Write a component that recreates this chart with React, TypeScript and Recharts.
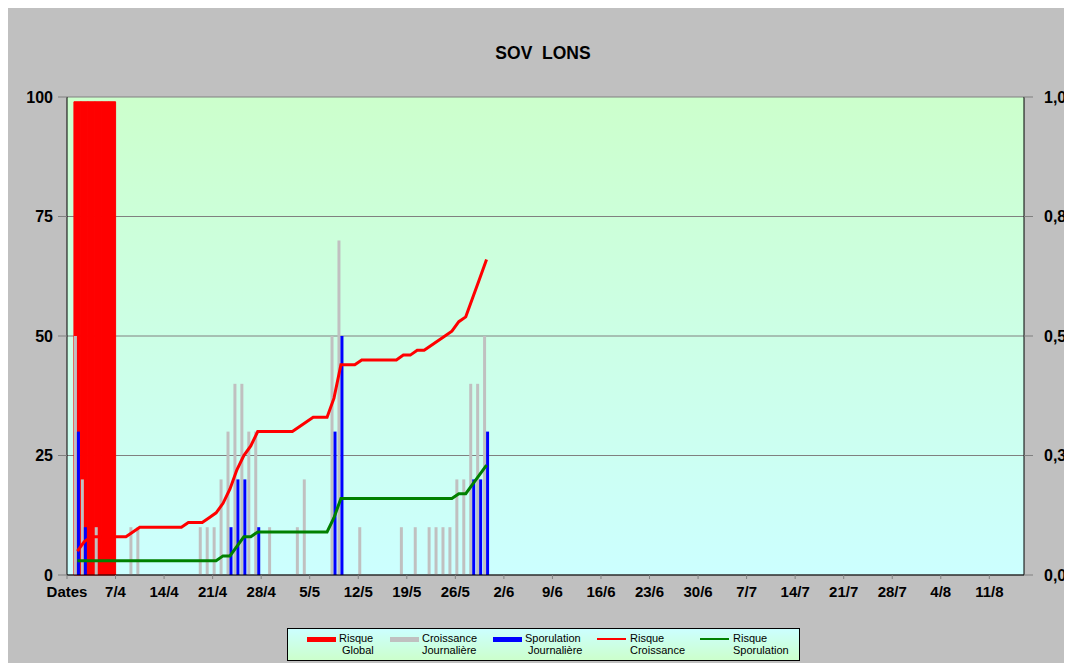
import React from 'react';
import {
  ComposedChart,
  Bar,
  Line,
  XAxis,
  YAxis,
  CartesianGrid,
} from 'recharts';

// jours affichés : du 31/3 au 15/8
const FIRST_DAY = 31;
const FIRST_MONTH = 3;
const DAY_COUNT = 138;
const MONTH_LENGTH: Record<number, number> = { 3: 31, 4: 30, 5: 31, 6: 30, 7: 31, 8: 31 };

// graduations de l'axe des dates (une par semaine)
const TICK_DAYS = ['31/3', '7/4', '14/4', '21/4', '28/4', '5/5', '12/5', '19/5', '26/5', '2/6',
  '9/6', '16/6', '23/6', '30/6', '7/7', '14/7', '21/7', '28/7', '4/8', '11/8'];
const TICK_LABELS = ['Dates', '7/4', '14/4', '21/4', '28/4', '5/5', '12/5', '19/5', '26/5', '2/6',
  '9/6', '16/6', '23/6', '30/6', '7/7', '14/7', '21/7', '28/7', '4/8', '11/8'];

const LEFT_TICKS = [0, 25, 50, 75, 100];
const RIGHT_TICKS = [0, 0.25, 0.5, 0.75, 1];

// Risque Global (axe secondaire)
const RISQUE_GLOBAL: [string, number][] = [
  ['1/4', 0.99], ['2/4', 0.99], ['3/4', 0.99], ['4/4', 0.99], ['5/4', 0.99], ['6/4', 0.99],
];

// Croissance Journalière
const CROISSANCE_J: [string, number][] = [
  ['1/4', 50], ['2/4', 20], ['4/4', 10], ['9/4', 10], ['10/4', 10], ['19/4', 10], ['20/4', 10],
  ['21/4', 10], ['22/4', 20], ['23/4', 30], ['24/4', 40], ['25/4', 40], ['26/4', 30], ['27/4', 30],
  ['29/4', 10], ['3/5', 10], ['4/5', 20], ['8/5', 50], ['9/5', 70], ['12/5', 10], ['18/5', 10],
  ['20/5', 10], ['22/5', 10], ['23/5', 10], ['24/5', 10], ['25/5', 10], ['26/5', 20], ['27/5', 20],
  ['28/5', 40], ['29/5', 40], ['30/5', 50],
];

// Sporulation Journalière
const SPORULATION_J: [string, number][] = [
  ['1/4', 30], ['2/4', 10], ['23/4', 10], ['24/4', 20], ['25/4', 20], ['27/4', 10],
  ['8/5', 30], ['9/5', 50], ['28/5', 20], ['29/5', 20], ['30/5', 30],
];

// courbes cumulées, une valeur par jour à partir du 1/4
const LINES_START = '1/4';
const RISQUE_CROISSANCE = [
  5, 7, 8, 8, 8, 8, 8, 8, 9, 10,
  10, 10, 10, 10, 10, 10, 11, 11, 11, 12,
  13, 15, 18, 22, 25, 27, 30, 30, 30, 30,
  30, 30, 31, 32, 33, 33, 33, 37, 44, 44,
  44, 45, 45, 45, 45, 45, 45, 46, 46, 47,
  47, 48, 49, 50, 51, 53, 54, 58, 62, 66,
];
const RISQUE_SPORULATION = [
  3, 3, 3, 3, 3, 3, 3, 3, 3, 3,
  3, 3, 3, 3, 3, 3, 3, 3, 3, 3,
  3, 4, 4, 6, 8, 8, 9, 9, 9, 9,
  9, 9, 9, 9, 9, 9, 9, 12, 16, 16,
  16, 16, 16, 16, 16, 16, 16, 16, 16, 16,
  16, 16, 16, 16, 16, 17, 17, 19, 21, 23,
];

const FONT = '"Liberation Sans", Arial, sans-serif';

const buildDays = (): string[] => {
  const out: string[] = [];
  let d = FIRST_DAY;
  let m = FIRST_MONTH;
  for (let k = 0; k < DAY_COUNT; k++) {
    out.push(`${d}/${m}`);
    d++;
    if (d > MONTH_LENGTH[m]) {
      d = 1;
      m++;
    }
  }
  return out;
};

const days = buildDays();
const globalMap = new Map(RISQUE_GLOBAL);
const croisMap = new Map(CROISSANCE_J);
const sporMap = new Map(SPORULATION_J);
const lineStart = days.indexOf(LINES_START);

const data = days.map((day, i) => ({
  day,
  global: globalMap.get(day),
  croissance: croisMap.get(day),
  sporulation: sporMap.get(day),
  risqueCroissance: RISQUE_CROISSANCE[i - lineStart],
  risqueSporulation: RISQUE_SPORULATION[i - lineStart],
}));

// graduation placée entre deux catégories, comme dans Excel
const DateTick = (props: any) => {
  const { x, y, payload } = props;
  const bx = x - (payload.offset ?? 0);
  const label = TICK_LABELS[TICK_DAYS.indexOf(payload.value)];
  return (
    <g>
      <line x1={bx} y1={y} x2={bx} y2={y + 4} stroke="#808080" />
      <text x={bx} y={y + 17} dy="0.355em" textAnchor="middle" fontFamily={FONT}
        fontWeight="bold" fontSize={15} fill="#000">
        {label}
      </text>
    </g>
  );
};

const axisTick = { fontFamily: FONT, fontWeight: 'bold', fontSize: 16, fill: '#000' };

const legendItems = [
  { l1: 'Risque', l2: 'Global', kind: 'box', color: '#ff0000', left: 19, textLeft: 51, l2Pad: 3 },
  { l1: 'Croissance', l2: 'Journalière', kind: 'box', color: '#c0c0c0', left: 102, textLeft: 134, l2Pad: 0 },
  { l1: 'Sporulation', l2: 'Journalière', kind: 'box', color: '#0000ff', left: 205, textLeft: 237, l2Pad: 3 },
  { l1: 'Risque', l2: 'Croissance', kind: 'line', color: '#ff0000', left: 309, textLeft: 342, l2Pad: 0 },
  { l1: 'Risque', l2: 'Sporulation', kind: 'line', color: '#008000', left: 412, textLeft: 445, l2Pad: 0 },
];

const App: React.FC = () => {
  return (
    <div style={{ position: 'relative', width: 1064, height: 655, background: '#c0c0c0', fontFamily: FONT }}>
      <div style={{
        position: 'absolute', left: 535, top: 35, transform: 'translateX(-50%)',
        fontSize: 17.5, fontWeight: 'bold', lineHeight: '20px', whiteSpace: 'pre', color: '#000',
      }}>
        {'SOV  LONS'}
      </div>

      <ComposedChart
        width={1064}
        height={655}
        data={data}
        margin={{ top: 89, right: 0, left: 0, bottom: 58 }}
        barCategoryGap={0}
        barGap={0}
      >
        <defs>
          <linearGradient id="plotBg" x1="0" y1="0" x2="0" y2="1">
            <stop offset="0%" stopColor="#ccffcc" />
            <stop offset="100%" stopColor="#ccffff" />
          </linearGradient>
        </defs>
        <CartesianGrid vertical={false} stroke="#808080" fill="url(#plotBg)" fillOpacity={1} />
        <XAxis
          dataKey="day"
          type="category"
          height={30}
          ticks={TICK_DAYS}
          interval={0}
          tickSize={0}
          tickMargin={0}
          tickLine={false}
          axisLine={{ stroke: '#000' }}
          tick={<DateTick />}
        />
        <XAxis xAxisId="g" dataKey="day" type="category" hide />
        <YAxis
          domain={[0, 100]}
          ticks={LEFT_TICKS}
          width={59}
          tickSize={9}
          tickMargin={5}
          axisLine={{ stroke: '#000' }}
          tickLine={{ stroke: '#808080' }}
          tick={axisTick}
        />
        <YAxis
          yAxisId="right"
          orientation="right"
          domain={[0, 1]}
          ticks={RIGHT_TICKS}
          width={48}
          tickSize={9}
          tickMargin={11}
          axisLine={{ stroke: '#000' }}
          tickLine={{ stroke: '#808080' }}
          tick={{ ...axisTick, textAnchor: 'start' }}
          tickFormatter={(v: number) => v.toFixed(1).replace('.', ',')}
        />
        <Bar xAxisId="g" yAxisId="right" dataKey="global" fill="#ff0000" stroke="#ff0000"
          strokeWidth={1} isAnimationActive={false} />
        <Bar dataKey="croissance" fill="#c0c0c0" barSize={3} isAnimationActive={false} />
        <Bar dataKey="sporulation" fill="#0000ff" barSize={3} isAnimationActive={false} />
        <Line type="linear" dataKey="risqueCroissance" stroke="#ff0000" strokeWidth={3}
          dot={false} isAnimationActive={false} />
        <Line type="linear" dataKey="risqueSporulation" stroke="#008000" strokeWidth={3}
          dot={false} isAnimationActive={false} />
      </ComposedChart>

      <div style={{
        position: 'absolute', left: 279, top: 620, width: 511, height: 31,
        border: '1px solid #000', background: 'linear-gradient(#ccffff, #ccffcc)',
        fontSize: 11, color: '#000',
      }}>
        {legendItems.map((it) => (
          <React.Fragment key={it.l1 + it.l2}>
            <div style={{
              position: 'absolute', left: it.left, width: 29,
              top: it.kind === 'box' ? 8 : 9, height: it.kind === 'box' ? 5 : 2, background: it.color,
            }} />
            <div style={{ position: 'absolute', left: it.textLeft, top: 3, lineHeight: '12px', whiteSpace: 'nowrap' }}>
              <div>{it.l1}</div>
              <div style={{ paddingLeft: it.l2Pad }}>{it.l2}</div>
            </div>
          </React.Fragment>
        ))}
      </div>
    </div>
  );
};

export default App;
